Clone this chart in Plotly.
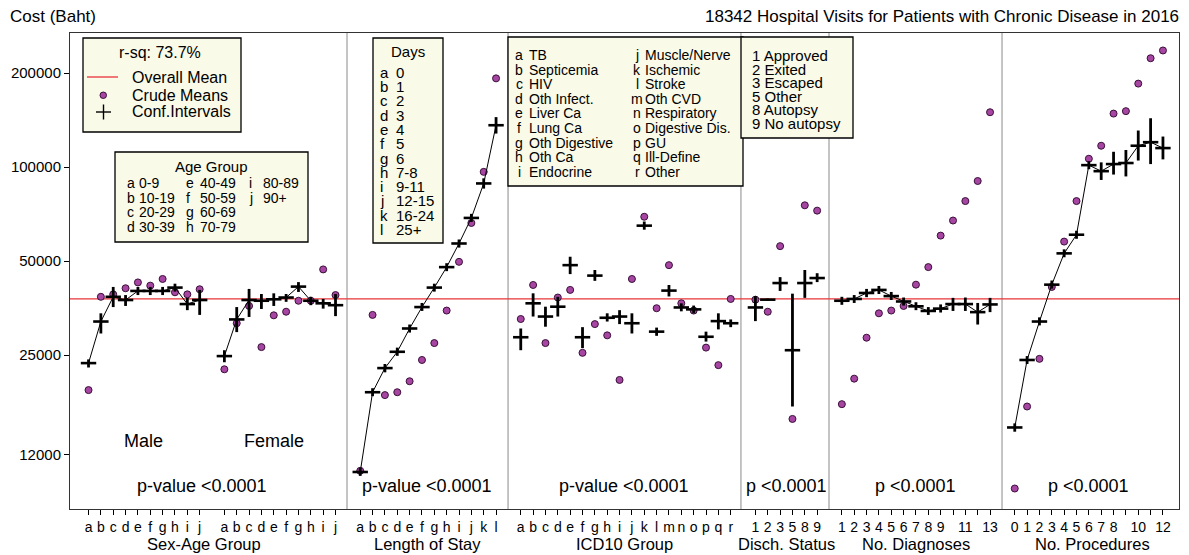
import numpy as np
import plotly.graph_objects as go

# ---------------- data ----------------
overall_mean = 37800
r_sq_text = "r-sq: 73.7%"

age_letters = list("abcdefghij")
male_crude = [19300, 38400, 39100, 40900, 42700, 41700, 43800, 39700, 39100, 40600]
male_adj = [23550, 32000, 38400, 37500, 40100, 40100, 40100, 41100, 36400, 37500]
male_lo = [22800, 29300, 35600, 35900, 38900, 38900, 38900, 39900, 34800, 33600]
male_hi = [24200, 34000, 41300, 38900, 41300, 41300, 41300, 42300, 38100, 40400]

female_crude = [22500, 31600, 35900, 26500, 33500, 34400, 37300, 37300, 47000, 38900]
female_adj = [24800, 32500, 37500, 37300, 37700, 38200, 41400, 37300, 36600, 36100]
female_lo = [23700, 29600, 33100, 35100, 35900, 37000, 39800, 36100, 35200, 33300]
female_hi = [25900, 35600, 40700, 39200, 39400, 39200, 42800, 38400, 37800, 39200]

los_letters = list("abcdefghijkl")
los_crude = [10640, 33600, 18600, 19000, 20600, 24100, 27300, 34700, 49700, 66200, 96500, 192300]
los_adj = [10550, 19000, 22700, 25600, 30400, 35600, 41100, 47800, 56900, 68700, 88600, 136100]
los_lo = [10250, 18450, 22000, 24850, 29500, 34600, 39900, 46400, 55200, 66700, 85300, 128000]
los_hi = [10870, 19570, 23400, 26400, 31300, 36700, 42300, 49200, 58600, 70800, 92000, 144500]

icd_letters = list("abcdefghijklmnopqr")
icd_crude = [32600, 41900, 27300, 38200, 40400, 25400, 31400, 28900, 20800, 43800,
             69300, 35300, 48500, 36600, 34700, 26400, 23200, 37800]
icd_adj = [28500, 36600, 33200, 35700, 48500, 28500, 44900, 32900, 33200, 31600,
           64900, 29700, 40200, 35500, 35000, 28600, 32100, 31600]
icd_lo = [25900, 33200, 30800, 33200, 45400, 26300, 43200, 32000, 31400, 29300,
          63000, 28800, 38500, 34500, 34000, 27600, 30200, 30700]
icd_hi = [30400, 39400, 35700, 38400, 51600, 30700, 46800, 34000, 34800, 34000,
          66900, 30600, 41900, 36600, 36000, 29700, 34000, 32500]

dis_labels = ["1", "2", "3", "5", "8", "9"]
dis_crude = [37600, 34400, 55800, 15600, 75400, 72500]
dis_adj = [35500, 37600, 42500, 25900, 42500, 44100]
dis_lo = [32100, 37300, 40100, 17100, 38100, 42800]
dis_hi = [38600, 37900, 44400, 39300, 46800, 45700]

diag_labels = ["1", "2", "3", "4", "5", "6", "7", "8", "9", "", "11", "", "13"]
diag_crude = [17400, 21000, 28400, 34000, 34700, 35900, 42000, 47800, 60300, 67400, 77800, 90200, 149800]
diag_adj = [37300, 37800, 39500, 40400, 38600, 37100, 35800, 34600, 35200, 36400, 36400, 34300, 36300]
diag_lo = [36200, 36700, 38300, 39200, 37500, 36000, 34800, 33600, 34200, 34600, 34600, 31300, 34300]
diag_hi = [38400, 38900, 40700, 41600, 39800, 38200, 36900, 35600, 36300, 38100, 38200, 36700, 38100]

proc_labels = ["0", "1", "2", "3", "4", "5", "6", "7", "8", "", "10", "", "12"]
proc_crude = [9340, 17100, 24300, 41300, 57700, 77800, 106300, 117000, 148300, 151000, 185000, 223100, 236200]
proc_adj = [14650, 24100, 32000, 42000, 52900, 60700, 101400, 97000, 102200, 103000, 117000, 120100, 115000]
proc_lo = [14200, 23400, 31100, 40800, 51400, 58900, 98400, 90900, 94600, 93300, 104900, 102200, 105800]
proc_hi = [15100, 24800, 33000, 43300, 54500, 62500, 104400, 103500, 111900, 113400, 130900, 143300, 125200]

y_tick_vals = [12000, 25000, 50000, 100000, 200000]

age_legend = [("a", "0-9"), ("b", "10-19"), ("c", "20-29"), ("d", "30-39"),
              ("e", "40-49"), ("f", "50-59"), ("g", "60-69"), ("h", "70-79"),
              ("i", "80-89"), ("j", "90+")]
days_legend = [("a", "0"), ("b", "1"), ("c", "2"), ("d", "3"), ("e", "4"), ("f", "5"),
               ("g", "6"), ("h", "7-8"), ("i", "9-11"), ("j", "12-15"), ("k", "16-24"), ("l", "25+")]
icd_legend = [("a", "TB"), ("b", "Septicemia"), ("c", "HIV"), ("d", "Oth Infect."),
              ("e", "Liver Ca"), ("f", "Lung Ca"), ("g", "Oth Digestive"), ("h", "Oth Ca"),
              ("i", "Endocrine"), ("j", "Muscle/Nerve"), ("k", "Ischemic"), ("l", "Stroke"),
              ("m", "Oth CVD"), ("n", "Respiratory"), ("o", "Digestive Dis."), ("p", "GU"),
              ("q", "Ill-Define"), ("r", "Other")]
dis_legend = ["1 Approved", "2 Exited", "3 Escaped", "5 Other", "8 Autopsy", "9 No autopsy"]

# ---------------- layout helpers ----------------
W, H = 1189, 555
L, R, T, B = 70, 10, 33, 46
PW, PH = W - L - R, H - T - B
X_MAX = 89.8
FONT = "Liberation Sans, Arial, sans-serif"
PURPLE = "#A646A2"
PURPLE_EDGE = "#3a0f38"
BOXFILL = "#FAFAE8"


def px(xp):
    return (xp - L) / PW


def py(yp):
    return (T + PH - yp) / PH


groups = [
    dict(pos=1.5 + np.arange(10), labels=age_letters, crude=male_crude, adj=male_adj, lo=male_lo, hi=male_hi, line=True),
    dict(pos=12.5 + np.arange(10), labels=age_letters, crude=female_crude, adj=female_adj, lo=female_lo, hi=female_hi, line=True),
    dict(pos=23.5 + np.arange(12), labels=los_letters, crude=los_crude, adj=los_adj, lo=los_lo, hi=los_hi, line=True),
    dict(pos=36.5 + np.arange(18), labels=icd_letters, crude=icd_crude, adj=icd_adj, lo=icd_lo, hi=icd_hi, line=False),
    dict(pos=55.5 + np.arange(6), labels=dis_labels, crude=dis_crude, adj=dis_adj, lo=dis_lo, hi=dis_hi, line=False),
    dict(pos=62.5 + np.arange(13), labels=diag_labels, crude=diag_crude, adj=diag_adj, lo=diag_lo, hi=diag_hi, line=True),
    dict(pos=76.5 + np.arange(13), labels=proc_labels, crude=proc_crude, adj=proc_adj, lo=proc_lo, hi=proc_hi, line=True),
]
separators = [22.43, 35.47, 54.33, 61.46, 75.47]

fig = go.Figure()

# overall mean line
fig.add_trace(go.Scatter(x=[0, X_MAX], y=[overall_mean, overall_mean], mode="lines",
                         line=dict(color="#E8343A", width=1.3), hoverinfo="skip", showlegend=False))

tickvals, ticktext = [], []
for g in groups:
    adj = np.array(g["adj"], float)
    lo = np.array(g["lo"], float)
    hi = np.array(g["hi"], float)
    tickvals += list(g["pos"])
    ticktext += list(g["labels"])
    fig.add_trace(go.Scatter(x=g["pos"], y=g["crude"], mode="markers",
                             marker=dict(symbol="circle", size=7, color=PURPLE,
                                         line=dict(color=PURPLE_EDGE, width=1)),
                             showlegend=False, hoverinfo="skip"))
    if g["line"]:
        fig.add_trace(go.Scatter(x=g["pos"], y=adj, mode="lines",
                                 line=dict(color="black", width=1),
                                 showlegend=False, hoverinfo="skip"))
    fig.add_trace(go.Scatter(x=g["pos"], y=adj, mode="markers",
                             marker=dict(symbol="line-ew", size=11, color="black",
                                         line=dict(color="black", width=2.6)),
                             error_y=dict(type="data", symmetric=False, array=hi - adj,
                                          arrayminus=adj - lo, width=0, thickness=2.8,
                                          color="black"),
                             showlegend=False, hoverinfo="skip"))

shapes = []
for s in separators:
    shapes.append(dict(type="line", xref="x", yref="paper", x0=s, x1=s, y0=0, y1=1,
                       line=dict(color="#8a8a8a", width=1), layer="below"))

annotations = []


def txt(xp, yp, s, size, anchor="left", color="black"):
    annotations.append(dict(x=px(xp), y=py(yp), xref="paper", yref="paper", text=s,
                            showarrow=False, xanchor=anchor, yanchor="middle",
                            font=dict(family=FONT, size=size, color=color)))


def box(x0, y0, x1, y1):
    shapes.append(dict(type="rect", xref="paper", yref="paper", x0=px(x0), x1=px(x1),
                       y0=py(y1), y1=py(y0), fillcolor=BOXFILL,
                       line=dict(color="black", width=1.3), layer="above"))


# titles
txt(8, 17, "Cost (Baht)", 17)
txt(1181, 17, "18342 Hospital Visits for Patients with Chronic Disease in 2016", 17, anchor="right")

# legend box
box(83, 38, 241, 132)
txt(160, 53, r_sq_text, 16, anchor="center")
shapes.append(dict(type="line", xref="paper", yref="paper", x0=px(87), x1=px(118),
                   y0=py(77), y1=py(77), line=dict(color="#E8343A", width=1.3), layer="above"))
txt(130, 77, "Overall Mean", 16)
shapes.append(dict(type="circle", xref="paper", yref="paper", x0=px(100), x1=px(106.5),
                   y0=py(98.5), y1=py(92), fillcolor=PURPLE,
                   line=dict(color=PURPLE_EDGE, width=1), layer="above"))
txt(130, 95, "Crude Means", 16)
shapes.append(dict(type="line", xref="paper", yref="paper", x0=px(96), x1=px(111),
                   y0=py(112), y1=py(112), line=dict(color="black", width=1.4), layer="above"))
shapes.append(dict(type="line", xref="paper", yref="paper", x0=px(103.5), x1=px(103.5),
                   y0=py(104.5), y1=py(119.5), line=dict(color="black", width=1.4), layer="above"))
txt(130, 112, "Conf.Intervals", 16)

# age group box
box(115, 152, 308, 242)
txt(211, 166, "Age Group", 15, anchor="center")
row_y = [183, 197.5, 212, 226.5]
col_x = [(125, 137), (184, 198), (247, 261)]
for i, (let, lab) in enumerate(age_legend):
    c, r = divmod(i, 4)
    txt(col_x[c][0], row_y[r], let, 14)
    txt(col_x[c][1], row_y[r], lab, 14)

# days box
box(373, 38, 443, 243)
txt(408, 52, "Days", 15, anchor="center")
for i, (let, lab) in enumerate(days_legend):
    yy = 72.3 + i * 14.3
    txt(378, yy, let, 15)
    txt(394, yy, lab, 15)

# ICD box
box(508, 37, 743, 186)
for i, (let, lab) in enumerate(icd_legend):
    c, r = divmod(i, 9)
    yy = 55 + r * 14.6
    if c == 0:
        txt(519, yy, let, 14, anchor="center")
        txt(527, yy, lab, 14)
    else:
        txt(637, yy, let, 14, anchor="center")
        txt(643, yy, lab, 14)

# discharge box
box(741, 37, 853, 138)
for i, s in enumerate(dis_legend):
    txt(750, 55.7 + i * 13.5, s, 15)

# in-plot labels
txt(143, 441, "Male", 18, anchor="center")
txt(274, 441, "Female", 18, anchor="center")
for xc, s in [(202, "p-value <0.0001"), (427, "p-value <0.0001"), (624, "p-value <0.0001"),
              (786, "p <0.0001"), (915, "p <0.0001"), (1088, "p <0.0001")]:
    txt(xc, 486, s, 18, anchor="center")

# axis titles
for xc, s in [(204, "Sex-Age Group"), (427, "Length of Stay"), (624, "ICD10 Group"),
              (786, "Disch. Status"), (916, "No. Diagnoses"), (1092, "No. Procedures")]:
    txt(xc, 544, s, 16.5, anchor="center")

fig.update_layout(
    width=W, height=H, margin=dict(l=L, r=R, t=T, b=B, pad=0),
    paper_bgcolor="white", plot_bgcolor="white",
    font=dict(family=FONT, color="black"),
    shapes=shapes, annotations=annotations, showlegend=False,
    xaxis=dict(range=[0, X_MAX], tickmode="array", tickvals=tickvals, ticktext=ticktext,
               tickangle=0, ticks="outside", ticklen=5, tickwidth=1, tickcolor="black",
               showgrid=False, zeroline=False, showline=True, linecolor="#333333",
               linewidth=1, mirror=True, tickfont=dict(size=14, family=FONT)),
    yaxis=dict(type="log", range=[np.log10(8030), np.log10(268700)], tickmode="array",
               tickvals=y_tick_vals, ticktext=[str(v) for v in y_tick_vals],
               ticks="outside", ticklen=5, tickwidth=1, tickcolor="black",
               showgrid=False, zeroline=False, showline=True, linecolor="#333333",
               linewidth=1, mirror=True, tickfont=dict(size=15, family=FONT)),
)

fig.write_html("out.html", config={"displayModeBar": False},
               post_script="document.body.style.margin='0px';document.body.style.overflow='hidden';")
